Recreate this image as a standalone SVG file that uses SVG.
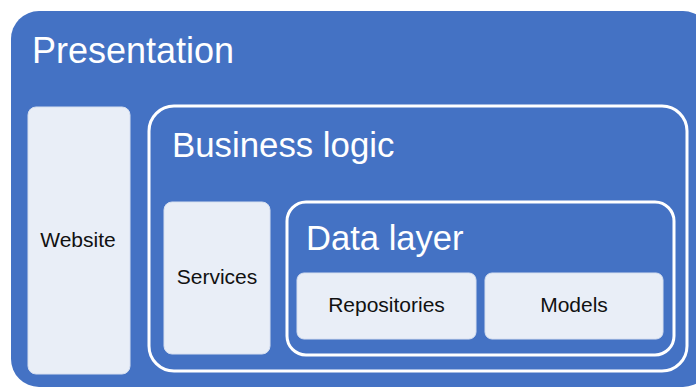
<svg xmlns="http://www.w3.org/2000/svg" width="696" height="388" viewBox="0 0 696 388">
  <style>
    .layer { fill: #4472C4; }
    .frame { fill: none; stroke: #FFFFFF; stroke-width: 3; }
    .box { fill: #E9EEF7; stroke: #D6DFF0; stroke-width: 1; }
    .title { font-family: "Liberation Sans", Arial, sans-serif; fill: #FFFFFF; }
    .label { font-family: "Liberation Sans", Arial, sans-serif; font-size: 21px; fill: #111111; text-anchor: middle; }
  </style>
  <rect width="696" height="388" fill="#FFFFFF"/>

  <g id="presentation">
    <rect class="layer" x="11" y="11" width="700" height="376" rx="28"/>
    <text class="title" x="32" y="63" font-size="36">Presentation</text>
  </g>

  <g id="website">
    <rect class="box" x="28" y="107" width="102" height="267" rx="8"/>
    <text class="label" x="78" y="247">Website</text>
  </g>

  <g id="business-logic">
    <rect class="frame" x="149" y="106" width="538" height="265" rx="25"/>
    <text class="title" x="172" y="157" font-size="34.8">Business logic</text>
  </g>

  <g id="services">
    <rect class="box" x="164" y="202" width="106" height="152" rx="8"/>
    <text class="label" x="217" y="284">Services</text>
  </g>

  <g id="data-layer">
    <rect class="frame" x="287" y="202" width="387" height="153" rx="19"/>
    <text class="title" x="306" y="250" font-size="34.6">Data layer</text>
  </g>

  <g id="repositories">
    <rect class="box" x="297" y="273" width="179" height="66" rx="7"/>
    <text class="label" x="386.5" y="312">Repositories</text>
  </g>

  <g id="models">
    <rect class="box" x="485" y="273" width="178" height="66" rx="7"/>
    <text class="label" x="574" y="312">Models</text>
  </g>

  <g id="connectors"/>
</svg>
